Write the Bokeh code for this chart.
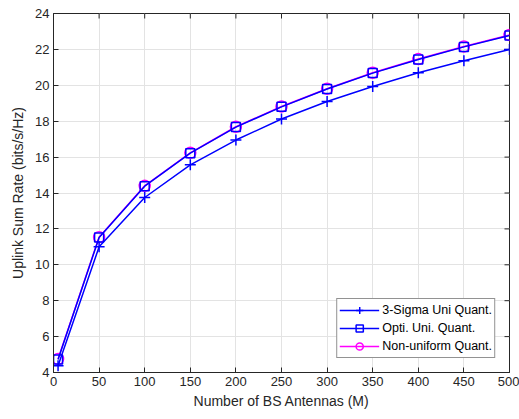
import math
from bokeh.plotting import figure
from bokeh.models import Legend, LegendItem, FixedTicker, Range1d
from bokeh.embed import file_html
from bokeh.resources import INLINE

# Number of BS antennas and uplink sum rates per quantizer
antennas = [5, 50, 100, 150, 200, 250, 300, 350, 400, 450, 500]
sigma3_uni = [4.37, 11.0, 13.75, 15.57, 16.95, 18.12, 19.1, 19.93, 20.7, 21.37, 22.0]
opti_uni = [4.73, 11.52, 14.38, 16.22, 17.67, 18.8, 19.79, 20.68, 21.44, 22.14, 22.78]
non_uniform = [4.75, 11.54, 14.4, 16.24, 17.69, 18.82, 19.81, 20.7, 21.46, 22.16, 22.8]

x_ticks = list(range(0, 501, 50))
y_ticks = list(range(4, 25, 2))
x_lo, x_hi = 0, 500
y_lo, y_hi = 4, 24

FONT = "Liberation Sans"
AX = "#262626"
BLUE = "#0000ff"
MAGENTA = "#ff00ff"

p = figure(width=519, height=419, output_backend="svg", toolbar_location=None,
           x_range=Range1d(x_lo, x_hi), y_range=Range1d(y_lo, y_hi),
           min_border_left=53, min_border_right=10, min_border_top=13, min_border_bottom=47)
p.background_fill_color = "white"
p.border_fill_color = "white"
p.outline_line_color = AX
p.outline_line_width = 1

for ax in (p.xaxis[0], p.yaxis[0]):
    ax.axis_line_color = AX
    ax.major_tick_line_color = AX
    ax.major_tick_in = 5
    ax.major_tick_out = 0
    ax.minor_tick_line_color = None
    ax.major_label_text_font = FONT
    ax.major_label_text_font_size = "13px"
    ax.major_label_text_color = AX
    ax.axis_label_text_font = FONT
    ax.axis_label_text_font_size = "14px"
    ax.axis_label_text_font_style = "normal"
    ax.axis_label_text_color = AX

p.xaxis[0].ticker = FixedTicker(ticks=x_ticks)
p.yaxis[0].ticker = FixedTicker(ticks=y_ticks)
p.xaxis[0].axis_label = "Number of BS Antennas (M)"
p.yaxis[0].axis_label = "Uplink Sum Rate (bits/s/Hz)"
p.xaxis[0].major_label_standoff = 4
p.yaxis[0].major_label_standoff = 4
p.xaxis[0].axis_label_standoff = 4
p.yaxis[0].axis_label_standoff = 6

p.xgrid.ticker = FixedTicker(ticks=x_ticks)
p.ygrid.ticker = FixedTicker(ticks=y_ticks)
p.grid.grid_line_color = "#e3e3e3"
p.grid.grid_line_width = 1

# mirrored tick marks on the top and right edges (half of each dash is clipped by the frame)
p.scatter(x_ticks, [y_hi] * len(x_ticks), marker="dash", size=10, angle=math.pi / 2,
          line_color=AX, line_width=1)
p.scatter([x_hi] * len(y_ticks), y_ticks, marker="dash", size=10,
          line_color=AX, line_width=1)

# curves
l3 = p.line(antennas, non_uniform, line_color=MAGENTA, line_width=1.5)
m3 = p.scatter(antennas, non_uniform, marker="circle", size=11, fill_color=None,
               line_color=MAGENTA, line_width=1.5)
l1 = p.line(antennas, sigma3_uni, line_color=BLUE, line_width=1.5)
m1 = p.scatter(antennas, sigma3_uni, marker="cross", size=11, line_color=BLUE, line_width=1.5)
l2 = p.line(antennas, opti_uni, line_color=BLUE, line_width=1.5)
m2 = p.scatter(antennas, opti_uni, marker="square", size=9, fill_color=None,
               line_color=BLUE, line_width=1.5)

legend = Legend(items=[
    LegendItem(label="3-Sigma Uni Quant.", renderers=[l1, m1]),
    LegendItem(label="Opti. Uni. Quant.", renderers=[l2, m2]),
    LegendItem(label="Non-uniform Quant.", renderers=[l3, m3]),
], location="bottom_right")
legend.label_text_font = FONT
legend.label_text_font_size = "12.5px"
legend.label_text_color = "black"
legend.border_line_color = AX
legend.border_line_width = 1
legend.background_fill_alpha = 1
legend.glyph_width = 40
legend.glyph_height = 18
legend.label_standoff = 3
legend.spacing = 0
legend.padding = 2
legend.margin = 14
legend.label_height = 18
p.add_layout(legend, "center")

open("out.html", "w").write(file_html(p, INLINE))
